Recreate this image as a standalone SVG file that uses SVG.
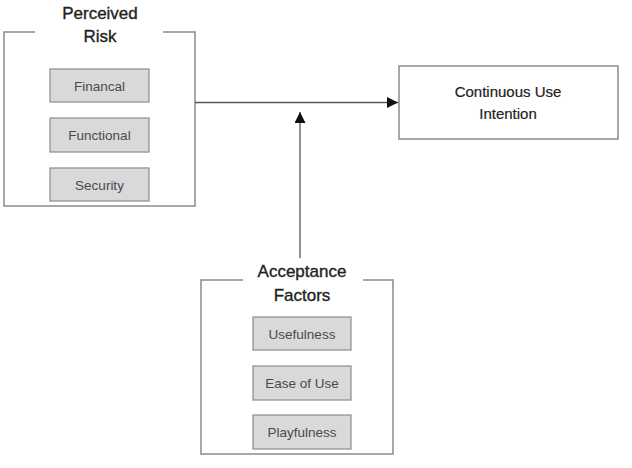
<svg xmlns="http://www.w3.org/2000/svg" width="632" height="468" viewBox="0 0 632 468">
<defs>
<style>
.frame{fill:none;stroke:#8a8a8a;stroke-width:1.5}
.item{fill:#d9d9d9;stroke:#8c8c8c;stroke-width:1.2}
.title{font-family:"Liberation Sans",Arial,sans-serif;font-size:17px;fill:#222;stroke:#222;stroke-width:0.35;text-anchor:middle}
.lbl{font-family:"Liberation Sans",Arial,sans-serif;font-size:13.5px;fill:#4a4a4a;text-anchor:middle}
.conn{stroke:#555;stroke-width:1.3;fill:none}
</style>
<marker id="ah" viewBox="0 0 10 10" refX="10" refY="5" markerWidth="11" markerHeight="11" markerUnits="userSpaceOnUse" orient="auto">
<path d="M0,0 L10,5 L0,10 z" fill="#111"/>
</marker>
</defs>
<rect width="632" height="468" fill="#fff"/>
<g id="perceived-risk">
<path class="frame" d="M35,32 H4 V206 H195 V32 H163"/>
<text class="title" x="100" y="19">Perceived</text>
<text class="title" x="100" y="42">Risk</text>
<g id="financial"><rect class="item" x="50" y="69" width="99" height="33"/><text class="lbl" x="99.5" y="90.5">Financal</text></g>
<g id="functional"><rect class="item" x="50" y="118" width="99" height="34"/><text class="lbl" x="99.5" y="140">Functional</text></g>
<g id="security"><rect class="item" x="50" y="168" width="99" height="33"/><text class="lbl" x="99.5" y="189.5">Security</text></g>
</g>
<g id="continuous-use">
<rect class="frame" x="399" y="66" width="219" height="73"/>
<text class="title" x="508" y="97" style="font-size:15px;stroke-width:0.2">Continuous Use</text>
<text class="title" x="508" y="119" style="font-size:15px;stroke-width:0.2">Intention</text>
</g>
<g id="acceptance-factors">
<path class="frame" d="M243,280 H201 V454 H393 V280 H363"/>
<text class="title" x="302" y="277">Acceptance</text>
<text class="title" x="302" y="301">Factors</text>
<g id="usefulness"><rect class="item" x="253" y="317" width="98" height="33"/><text class="lbl" x="302" y="338.5">Usefulness</text></g>
<g id="ease-of-use"><rect class="item" x="253" y="366" width="98" height="34"/><text class="lbl" x="302" y="388">Ease of Use</text></g>
<g id="playfulness"><rect class="item" x="253" y="415" width="98" height="34"/><text class="lbl" x="302" y="437">Playfulness</text></g>
</g>
<g id="connectors">
<line class="conn" x1="195" y1="102.5" x2="398" y2="102.5" marker-end="url(#ah)"/>
<line class="conn" x1="300" y1="258" x2="300" y2="112" marker-end="url(#ah)"/>
</g>
</svg>
